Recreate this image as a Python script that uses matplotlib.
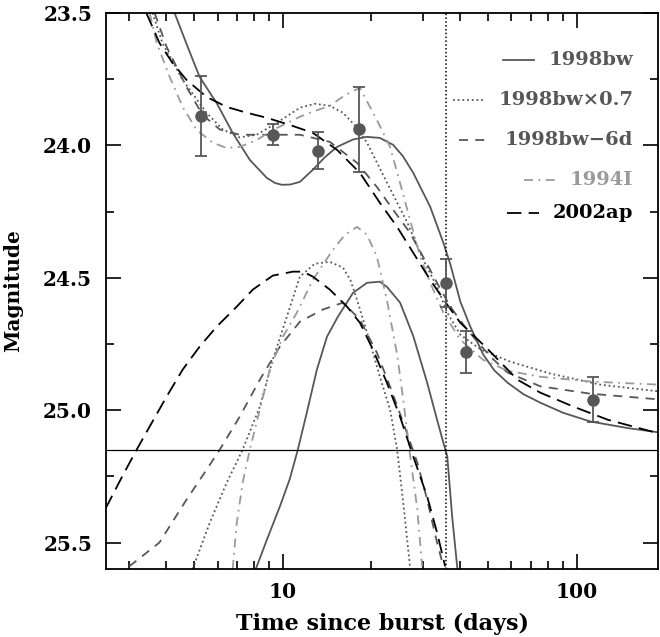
import numpy as np
import matplotlib
matplotlib.use("Agg")
import matplotlib.pyplot as plt
from matplotlib.ticker import FixedLocator, NullFormatter, MultipleLocator

plt.rcParams['font.family'] = 'DejaVu Serif'

# observed points (days, mag, error)
obs_t = [5.25, 9.25, 13.2, 18.2, 36.0, 42.2, 114.0]
obs_m = [23.89, 23.96, 24.02, 23.94, 24.52, 24.78, 24.96]
obs_e = [0.15, 0.04, 0.07, 0.16, 0.09, 0.08, 0.085]

# 1998bw: total (afterglow + SN) and SN only
bw_t = [4.28, 4.75, 5.21, 5.95, 6.75, 7.72, 8.82, 9.4, 9.92, 10.6, 11.43, 12.66, 13.9, 15.29, 17.34, 19.3, 21.4,
        23.73, 25.6, 27.8, 31.75, 35.2, 37.2, 40.2, 43.5, 48.1, 52.5, 58.2, 66.0, 75.3, 90.0, 111.6, 150.0, 193.6]
bw_m = [23.5, 23.63, 23.742, 23.84, 23.953, 24.055, 24.123, 24.142, 24.149, 24.148, 24.138, 24.092, 24.045, 24.006, 23.978, 23.968, 23.972,
        23.998, 24.04, 24.104, 24.232, 24.368, 24.45, 24.59, 24.685, 24.79, 24.85, 24.896, 24.94, 24.972, 25.01, 25.043, 25.068, 25.085]
bw_sn_t = [8.09, 8.82, 9.77, 10.56, 11.25, 12.07, 13.06, 14.13, 15.4, 17.34, 19.35, 21.4, 22.6,
           25.07, 27.8, 31.0, 33.5, 35.2, 36.3, 37.7, 39.3]
bw_sn_m = [25.6, 25.49, 25.364, 25.26, 25.149, 25.009, 24.847, 24.723, 24.647, 24.557, 24.519, 24.515, 24.534,
           24.594, 24.72, 24.896, 25.036, 25.123, 25.175, 25.40, 25.6]

# 1998bw x 0.7
bw07_t = [3.60, 3.89, 4.56, 5.50, 6.24, 7.13, 8.15, 9.54, 11.43, 12.85, 14.46, 16.03, 17.6, 19.35,
          22.6, 26.5, 30.0, 33.5, 36.3, 40.2, 47.0, 59.5, 81.5, 120.8, 193.6]
bw07_m = [23.5, 23.613, 23.753, 23.877, 23.94, 23.97, 23.96, 23.915, 23.858, 23.843, 23.851, 23.877, 23.925, 23.99,
          24.14, 24.29, 24.43, 24.534, 24.632, 24.715, 24.77, 24.817, 24.862, 24.904, 24.93]
bw07_sn_t = [4.93, 5.64, 6.44, 7.30, 8.35, 9.24, 10.32, 11.43, 12.85, 14.46, 16.03, 17.0, 17.89,
             19.82, 21.4, 23.18, 24.5, 25.7, 27.1]
bw07_sn_m = [25.6, 25.425, 25.274, 25.149, 24.987, 24.81, 24.647, 24.496, 24.447, 24.44, 24.462, 24.51, 24.583,
             24.745, 24.874, 24.998, 25.149, 25.349, 25.59]

# 1998bw shifted by -6 d
bw6_t = [3.66, 4.02, 4.70, 5.33, 6.10, 7.13, 8.68, 11.43, 14.46, 17.89, 20.9, 23.73, 27.1,
         30.0, 33.5, 37.2, 42.4, 50.9, 58.2, 75.3, 111.6, 193.6]
bw6_m = [23.5, 23.628, 23.78, 23.885, 23.94, 23.96, 23.96, 23.96, 23.987, 24.066, 24.157, 24.243, 24.33,
         24.42, 24.519, 24.61, 24.696, 24.798, 24.858, 24.91, 24.938, 24.96]
bw6_sn_t = [3.00, 3.80, 4.70, 5.50, 6.10, 7.13, 8.35, 9.77, 11.43, 13.69, 16.03, 18.3, 20.9,
            23.18, 25.7, 28.7, 31.0, 33.5, 35.2]
bw6_sn_m = [25.59, 25.5, 25.338, 25.225, 25.149, 25.025, 24.885, 24.76, 24.666, 24.62, 24.594, 24.658, 24.783,
            24.911, 25.047, 25.198, 25.338, 25.5, 25.59]

# 1994I
i94_t = [3.52, 3.72, 4.12, 4.56, 5.09, 5.77, 6.44, 7.13, 8.15, 9.24, 11.43, 12.85, 14.46, 16.3, 18.3,
         20.9, 23.18, 25.07, 27.1, 29.35, 31.75, 35.2, 40.2, 48.1, 58.2, 75.3, 111.6, 193.6]
i94_m = [23.5, 23.613, 23.742, 23.855, 23.942, 23.99, 24.01, 24.006, 23.98, 23.942, 23.892, 23.87, 23.851, 23.81, 23.783,
         23.904, 24.006, 24.142, 24.281, 24.42, 24.519, 24.632, 24.734, 24.81, 24.851, 24.874, 24.892, 24.904]
i94_sn_t = [6.75, 6.97, 7.30, 7.72, 8.35, 9.03, 10.0, 11.16, 12.66, 14.81, 16.28, 17.89, 19.35,
            20.9, 22.6, 24.5, 25.7, 27.1, 28.7, 29.8]
i94_sn_m = [25.6, 25.425, 25.274, 25.149, 24.998, 24.847, 24.723, 24.632, 24.508, 24.394, 24.338, 24.308, 24.338,
            24.42, 24.583, 24.79, 24.96, 25.168, 25.375, 25.59]

# 2002ap
ap_t = [3.43, 3.80, 4.21, 4.70, 5.50, 6.44, 7.54, 8.82, 10.56, 12.66, 15.29, 18.3, 21.4, 24.5,
        27.8, 31.75, 36.3, 40.2, 49.7, 62.9, 75.3, 97.7, 127.6, 193.6]
ap_m = [23.5, 23.613, 23.689, 23.753, 23.817, 23.855, 23.877, 23.896, 23.923, 23.953, 24.017, 24.104, 24.217, 24.308,
        24.406, 24.508, 24.602, 24.67, 24.768, 24.885, 24.934, 24.987, 25.036, 25.09]
ap_sn_t = [2.49, 2.84, 3.18, 3.52, 4.02, 4.56, 5.21, 5.95, 6.97, 7.90, 9.24, 10.82, 11.70, 12.66,
           14.46, 16.54, 18.3, 20.28, 22.6, 25.07, 27.8, 31.0, 33.5, 35.7]
ap_sn_m = [25.372, 25.25, 25.149, 25.062, 24.949, 24.847, 24.76, 24.685, 24.609, 24.545, 24.492, 24.477, 24.477, 24.496,
           24.545, 24.609, 24.67, 24.772, 24.896, 25.025, 25.175, 25.326, 25.462, 25.59]

limit_mag = 25.15
t_vline = 36.0

dark = '#575757'
light = '#9a9a9a'
styles = [
    ('1998bw', bw_t, bw_m, bw_sn_t, bw_sn_m, dark, '-'),
    ('1998bw\u00d70.7', bw07_t, bw07_m, bw07_sn_t, bw07_sn_m, dark, (0, (1, 1.6))),
    ('1998bw\u22126d', bw6_t, bw6_m, bw6_sn_t, bw6_sn_m, dark, (0, (5, 4))),
    ('1994I', i94_t, i94_m, i94_sn_t, i94_sn_m, light, (0, (5, 3, 1, 3))),
    ('2002ap', ap_t, ap_m, ap_sn_t, ap_sn_m, 'black', (0, (8, 4))),
]

fig = plt.figure(figsize=(6.6, 6.37), dpi=100)
ax = fig.add_axes([0.1606, 0.1067, 0.837, 0.873])

for name, t, m, ts, ms, c, ls in styles:
    ax.plot(t, m, color=c, ls=ls, lw=1.3)
    ax.plot(ts, ms, color=c, ls=ls, lw=1.3)

ax.axhline(limit_mag, color='black', lw=0.9)
ax.axvline(t_vline, color='black', ls=(0, (1, 1.5)), lw=1.1)

ax.errorbar(obs_t, obs_m, yerr=obs_e, fmt='o', color=dark, ms=8, capsize=4.5,
            elinewidth=1.3, capthick=1.3)

ax.set_xscale('log')
ax.set_xlim(2.5, 190)
ax.set_ylim(25.6, 23.5)
ax.xaxis.set_major_locator(FixedLocator([10, 100]))
ax.xaxis.set_major_formatter(matplotlib.ticker.FixedFormatter(['10', '100']))
ax.xaxis.set_minor_locator(FixedLocator([3, 4, 5, 6, 7, 8, 9, 20, 30, 40, 50, 60, 70, 80, 90]))
ax.xaxis.set_minor_formatter(NullFormatter())
ax.yaxis.set_major_locator(MultipleLocator(0.5))
ax.yaxis.set_minor_locator(MultipleLocator(0.25))
ax.yaxis.set_major_formatter(matplotlib.ticker.FormatStrFormatter('%.1f'))
ax.tick_params(which='both', direction='in', top=True, right=True, width=1.2,
               labelsize=14.5)
ax.tick_params(axis='y', pad=10)
ax.tick_params(axis='x', pad=9)
ax.tick_params(which='major', length=11)
ax.tick_params(which='minor', length=5.5)
for s in ax.spines.values():
    s.set_linewidth(1.3)
for lab in ax.get_xticklabels() + ax.get_yticklabels():
    lab.set_fontweight('bold')

ax.set_xlabel('Time since burst (days)', fontsize=16, fontweight='bold', labelpad=8)
ax.set_ylabel('Magnitude', fontsize=14.5, fontweight='bold', labelpad=14)

# legend: right-aligned labels with line samples to the left
fig.canvas.draw()
renderer = fig.canvas.get_renderer()
x_right = (633 - 106) / (658 - 106)
rows_px = [60, 100, 140, 180, 213]
for (name, t, m, ts, ms, c, ls), ypx in zip(styles, rows_px):
    yy = 1 - (ypx - 13) / (569 - 13)
    txt = ax.text(x_right, yy, name, transform=ax.transAxes, ha='right', va='center',
                  fontsize=14, fontweight='bold', color=c)
    bb = txt.get_window_extent(renderer).transformed(ax.transAxes.inverted())
    x1 = bb.x0 - 0.026
    ax.plot([x1 - 0.057, x1], [yy, yy], transform=ax.transAxes, color=c, ls=ls, lw=1.3)

fig.savefig('out.png', dpi=100)
